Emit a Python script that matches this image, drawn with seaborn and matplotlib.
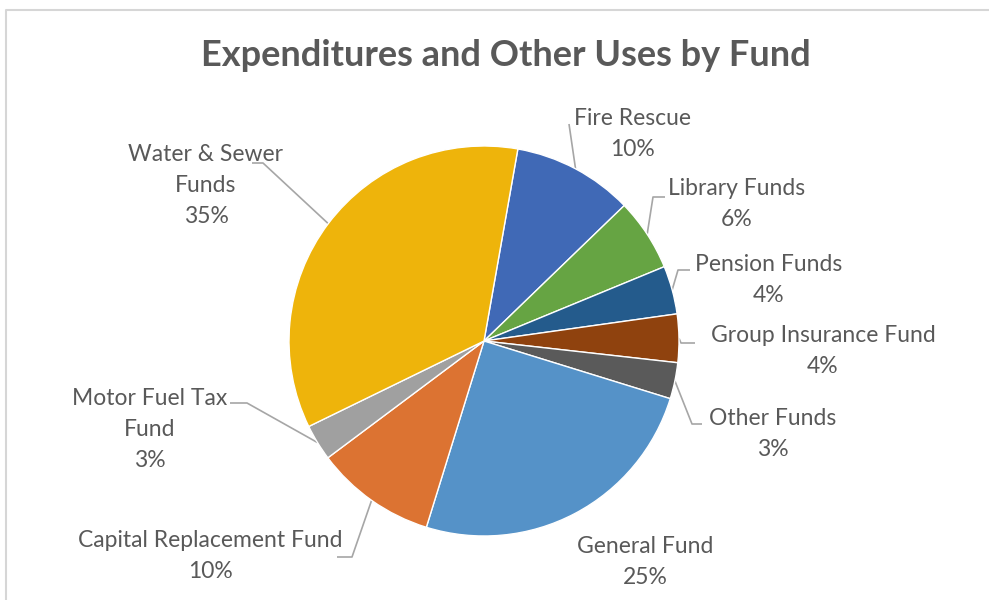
import matplotlib
matplotlib.use("Agg")
import matplotlib.pyplot as plt
from matplotlib.lines import Line2D
import numpy as np
import seaborn as sns

# Share of expenditures and other uses, clockwise from the top
funds = ["Fire Rescue", "Library Funds", "Pension Funds", "Group Insurance Fund",
         "Other Funds", "General Fund", "Capital Replacement Fund",
         "Motor Fuel Tax Fund", "Water & Sewer Funds"]
label_lines = [["Fire Rescue"], ["Library Funds"], ["Pension Funds"],
               ["Group Insurance Fund"], ["Other Funds"], ["General Fund"],
               ["Capital Replacement Fund"], ["Motor Fuel Tax", "Fund"],
               ["Water & Sewer", "Funds"]]
shares = [10, 6, 4, 4, 3, 25, 10, 3, 35]

colors = ["#4069B6", "#66A443", "#245B8C", "#8F420E", "#5A5A5A",
          "#5592C8", "#DC7332", "#A0A0A0", "#EEB40B"]

W, H = 989, 600
DPI = 100

# Layout in pixel units (x right, y down)
CX, CY, R = 484, 341, 195
START_CW = 10  # degrees clockwise from 12 o'clock where the first slice begins
label_anchor = [(632, 125), (737, 195), (769, 271), (823, 342), (773, 425),
                (645, 553), (210, 547), (150, 405), (206, 161)]
LINE_STEP = 31
leader_elbows = [[(569, 124)], [(665, 197), (653, 197)], [(690, 270), (678, 270)],
                 [(695, 343), (681, 343)], [(702, 424), (692, 424)], None,
                 [(337, 557), (352, 557)], [(230, 403), (247, 403)],
                 [(252, 163), (263, 163)]]

TEXT = "#595959"
LEADER = "#A6A6A6"

sns.set_theme(style="white")
plt.rcParams["font.family"] = ["Lato", "DejaVu Sans"]

fig = plt.figure(figsize=(W / DPI, H / DPI), dpi=DPI)
ax = fig.add_axes([0, 0, 1, 1])

wedges, _ = ax.pie(shares, colors=colors, startangle=90 - START_CW,
                   counterclock=False, center=(CX, H - CY), radius=R,
                   wedgeprops=dict(edgecolor="white", linewidth=1.0))
ax.set_xlim(0, W)
ax.set_ylim(0, H)
ax.set_aspect("equal")
ax.axis("off")

for i, w in enumerate(wedges):
    # data label: category name + percentage
    x0, y0 = label_anchor[i]
    lines = label_lines[i] + [f"{shares[i]:.0f}%"]
    for k, line in enumerate(lines):
        ax.text(x0, H - (y0 + k * LINE_STEP), line, ha="center", va="baseline",
                fontsize=16.5, color=TEXT)
    # leader line from label to the slice edge
    if leader_elbows[i] is not None:
        mid = np.deg2rad((w.theta1 + w.theta2) / 2)
        px = CX + R * np.cos(mid)
        py = (H - CY) + R * np.sin(mid)
        xs = [p[0] for p in leader_elbows[i]] + [px]
        ys = [H - p[1] for p in leader_elbows[i]] + [py]
        ax.plot(xs, ys, color=LEADER, linewidth=1.2, solid_capstyle="butt", zorder=0.5)

fig.text(505.5 / W, 1 - 66 / H, "Expenditures and Other Uses by Fund", ha="center",
         va="baseline", fontsize=26, fontweight="bold", color=TEXT)

# chart area frame (top and left edges visible)
fig.add_artist(Line2D([5.5 / W, 5.5 / W, 1], [0, 1 - 9.5 / H, 1 - 9.5 / H],
                      transform=fig.transFigure, color="#D6D6D6", linewidth=1.5))

fig.savefig("out.png", dpi=DPI)
